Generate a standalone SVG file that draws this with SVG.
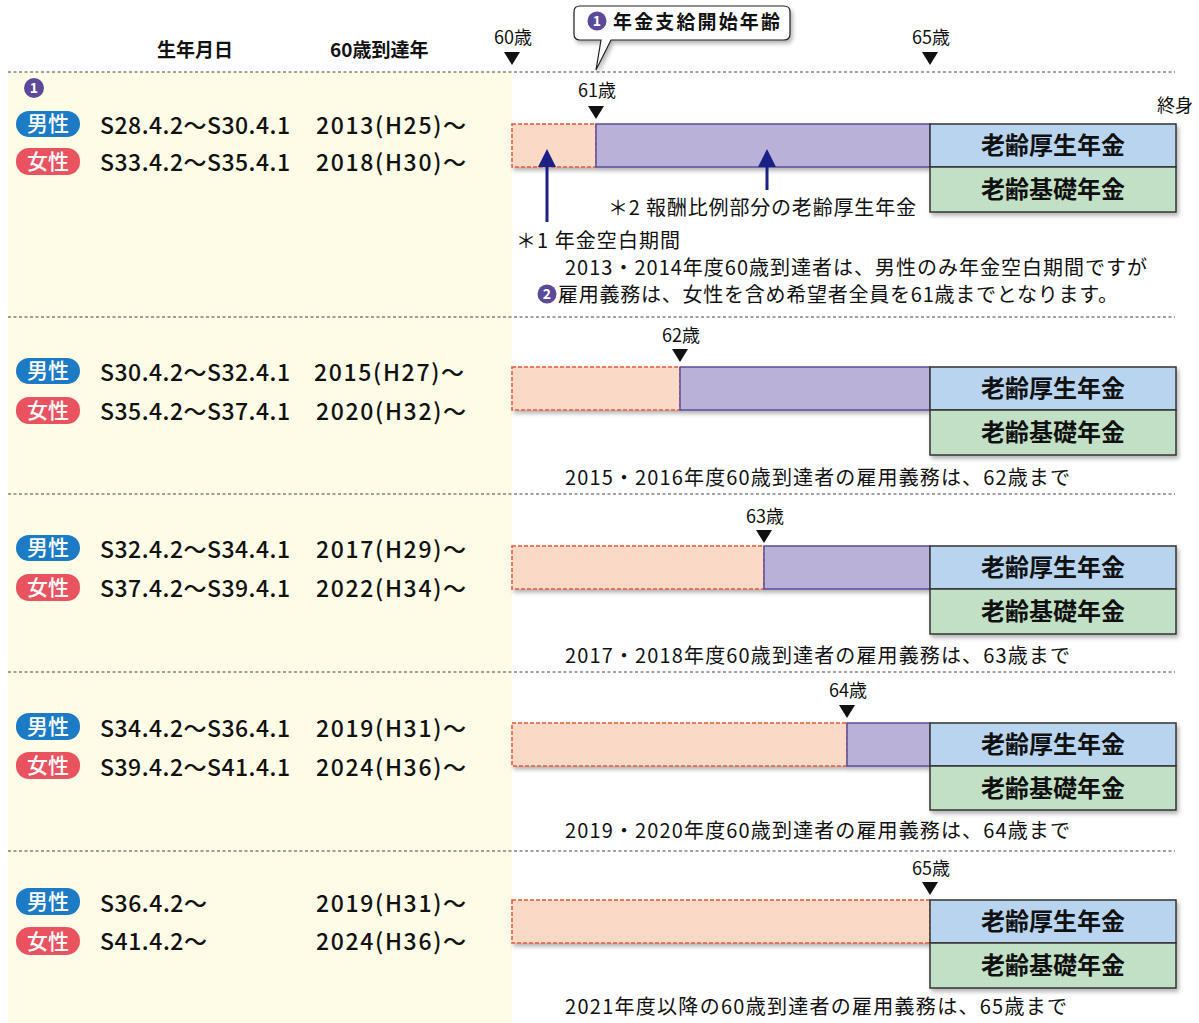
<svg xmlns="http://www.w3.org/2000/svg" width="1199" height="1023" viewBox="0 0 1199 1023">
<defs>
<filter id="sh" x="-5%" y="-10%" width="115%" height="130%"><feDropShadow dx="2" dy="3" stdDeviation="2" flood-color="#000" flood-opacity="0.3"/></filter>
<marker id="ah" viewBox="0 0 10 10" refX="5" refY="5" markerWidth="6" markerHeight="6" orient="auto-start-reverse"><path d="M0,0 L10,5 L0,10 Z" fill="#1b2087"/></marker>
</defs>
<style>
text{font-family:"Noto Sans CJK JP","Noto Sans",sans-serif;fill:#111}
.hd{font-size:19px;font-weight:bold}
.age{font-size:18px}
.row{font-size:23px;font-weight:500}
.cap{font-size:20px}
.lbl{font-size:24px;font-weight:bold;text-anchor:middle}
.bw{font-size:21px;font-weight:500;fill:#fff;text-anchor:middle}
.num{font-size:14px;fill:#fff;text-anchor:middle;font-weight:bold}
.sep{stroke:#444;stroke-width:1;stroke-dasharray:3 2.5}
.gap{fill:#fad9c6;stroke:#e8553a;stroke-width:1.5;stroke-dasharray:4 2}
.prop{fill:#b9b1d8;stroke:#5b4e99;stroke-width:1.5}
.kosei{fill:#b8d4ef;stroke:#333;stroke-width:1.5}
.kiso{fill:#c2e0c5;stroke:#333;stroke-width:1.5}
.male{fill:#1c7bc4}
.female{fill:#e8535f}
.pur{fill:#5c4a99}
.tri{fill:#111}
.arr{stroke:#1b2087;stroke-width:3;fill:none}
</style>
<rect x="0" y="0" width="1199" height="1023" fill="#fff"/>
<rect x="8" y="72" width="504" height="951" fill="#fefbe6"/>
<g id="separators">
<line class="sep" x1="8" y1="72" x2="1175" y2="72"/>
<line class="sep" x1="8" y1="317" x2="1175" y2="317"/>
<line class="sep" x1="8" y1="494" x2="1175" y2="494"/>
<line class="sep" x1="8" y1="672" x2="1175" y2="672"/>
<line class="sep" x1="8" y1="851" x2="1175" y2="851"/>
</g>
<g id="header">
<text class="hd" x="157" y="57">生年月日</text>
<text class="hd" x="330" y="57">60歳到達年</text>
<text class="age" x="513" y="44" text-anchor="middle">60歳</text>
<path class="tri" d="M504,52 H520 L512,65 Z"/>
<text class="age" x="931" y="44" text-anchor="middle">65歳</text>
<path class="tri" d="M922,52 H938 L930,65 Z"/>
</g>
<g id="callout">
<path d="M580,6 H784 Q790,6 790,12 V34 Q790,40 784,40 H611 L596,70 L601,40 H580 Q574,40 574,34 V12 Q574,6 580,6 Z" fill="#fff" stroke="#222" stroke-width="1.2" filter="url(#sh)"/>
<circle class="pur" cx="597" cy="21" r="9.5"/>
<text class="num" x="597" y="26">1</text>
<text class="hd" x="613" y="29" textLength="167" lengthAdjust="spacing">年金支給開始年齢</text>
</g>
<g id="row1">
<circle class="pur" cx="34" cy="88" r="10"/>
<text class="num" x="34" y="93">1</text>
<rect class="male" x="16" y="111" width="64" height="26" rx="13"/>
<text class="bw" x="48" y="131">男性</text>
<rect class="female" x="16" y="148" width="64" height="27" rx="13"/>
<text class="bw" x="48" y="169">女性</text>
<text class="row" x="100" y="134" textLength="190" lengthAdjust="spacing">S28.4.2～S30.4.1</text>
<text class="row" x="316" y="134" textLength="150" lengthAdjust="spacing">2013(H25)～</text>
<text class="row" x="100" y="171" textLength="190" lengthAdjust="spacing">S33.4.2～S35.4.1</text>
<text class="row" x="316" y="171" textLength="150" lengthAdjust="spacing">2018(H30)～</text>
<text class="age" x="597" y="97" text-anchor="middle">61歳</text>
<path class="tri" d="M588,106 H604 L596,119 Z"/>
<text class="age" x="1193" y="112" text-anchor="end">終身</text>
<g filter="url(#sh)">
<rect class="gap" x="512" y="124" width="84" height="43"/>
<rect class="prop" x="596" y="124" width="334" height="43"/>
<rect class="kosei" x="930" y="124" width="246" height="43"/>
<rect class="kiso" x="930" y="167" width="246" height="45"/>
</g>
<text class="lbl" x="1053" y="154">老齢厚生年金</text>
<text class="lbl" x="1053" y="198">老齢基礎年金</text>
<text class="cap" x="608" y="215" textLength="308" lengthAdjust="spacing">＊2 報酬比例部分の老齢厚生年金</text>
<text class="cap" x="516" y="248" textLength="164" lengthAdjust="spacing">＊1 年金空白期間</text>
<text class="cap" x="565" y="275" textLength="582" lengthAdjust="spacing">2013・2014年度60歳到達者は、男性のみ年金空白期間ですが</text>
<circle class="pur" cx="547" cy="294" r="9.5"/>
<text class="num" x="547" y="299">2</text>
<text class="cap" x="558" y="302" textLength="560" lengthAdjust="spacing">雇用義務は、女性を含め希望者全員を61歳までとなります。</text>
</g>
<g id="connectors">
<line class="arr" x1="547" y1="222" x2="547" y2="158" marker-end="url(#ah)"/>
<line class="arr" x1="767" y1="190" x2="767" y2="158" marker-end="url(#ah)"/>
</g>
<g id="row2">
<rect class="male" x="16" y="358" width="64" height="26" rx="13"/>
<text class="bw" x="48" y="378">男性</text>
<rect class="female" x="16" y="397" width="64" height="27" rx="13"/>
<text class="bw" x="48" y="418">女性</text>
<text class="row" x="100" y="381" textLength="190" lengthAdjust="spacing">S30.4.2～S32.4.1</text>
<text class="row" x="314" y="381" textLength="150" lengthAdjust="spacing">2015(H27)～</text>
<text class="row" x="100" y="420" textLength="190" lengthAdjust="spacing">S35.4.2～S37.4.1</text>
<text class="row" x="316" y="420" textLength="150" lengthAdjust="spacing">2020(H32)～</text>
<text class="age" x="681" y="342" text-anchor="middle">62歳</text>
<path class="tri" d="M672,349 H688 L680,362 Z"/>
<g filter="url(#sh)">
<rect class="gap" x="512" y="367" width="168" height="43"/>
<rect class="prop" x="680" y="367" width="250" height="43"/>
<rect class="kosei" x="930" y="367" width="246" height="43"/>
<rect class="kiso" x="930" y="410" width="246" height="45"/>
</g>
<text class="lbl" x="1053" y="397">老齢厚生年金</text>
<text class="lbl" x="1053" y="441">老齢基礎年金</text>
<text class="cap" x="565" y="485" textLength="505" lengthAdjust="spacing">2015・2016年度60歳到達者の雇用義務は、62歳まで</text>
</g>
<g id="row3">
<rect class="male" x="16" y="535" width="64" height="26" rx="13"/>
<text class="bw" x="48" y="555">男性</text>
<rect class="female" x="16" y="574" width="64" height="27" rx="13"/>
<text class="bw" x="48" y="595">女性</text>
<text class="row" x="100" y="558" textLength="190" lengthAdjust="spacing">S32.4.2～S34.4.1</text>
<text class="row" x="316" y="558" textLength="150" lengthAdjust="spacing">2017(H29)～</text>
<text class="row" x="100" y="597" textLength="190" lengthAdjust="spacing">S37.4.2～S39.4.1</text>
<text class="row" x="316" y="597" textLength="150" lengthAdjust="spacing">2022(H34)～</text>
<text class="age" x="765" y="523" text-anchor="middle">63歳</text>
<path class="tri" d="M756,530 H772 L764,543 Z"/>
<g filter="url(#sh)">
<rect class="gap" x="512" y="546" width="252" height="43"/>
<rect class="prop" x="764" y="546" width="166" height="43"/>
<rect class="kosei" x="930" y="546" width="246" height="43"/>
<rect class="kiso" x="930" y="589" width="246" height="45"/>
</g>
<text class="lbl" x="1053" y="576">老齢厚生年金</text>
<text class="lbl" x="1053" y="620">老齢基礎年金</text>
<text class="cap" x="565" y="663" textLength="505" lengthAdjust="spacing">2017・2018年度60歳到達者の雇用義務は、63歳まで</text>
</g>
<g id="row4">
<rect class="male" x="16" y="713" width="64" height="27" rx="13"/>
<text class="bw" x="48" y="734">男性</text>
<rect class="female" x="16" y="752" width="64" height="27" rx="13"/>
<text class="bw" x="48" y="773">女性</text>
<text class="row" x="100" y="737" textLength="190" lengthAdjust="spacing">S34.4.2～S36.4.1</text>
<text class="row" x="316" y="737" textLength="150" lengthAdjust="spacing">2019(H31)～</text>
<text class="row" x="100" y="776" textLength="190" lengthAdjust="spacing">S39.4.2～S41.4.1</text>
<text class="row" x="316" y="776" textLength="150" lengthAdjust="spacing">2024(H36)～</text>
<text class="age" x="848" y="697" text-anchor="middle">64歳</text>
<path class="tri" d="M839,705 H855 L847,718 Z"/>
<g filter="url(#sh)">
<rect class="gap" x="512" y="723" width="335" height="43"/>
<rect class="prop" x="847" y="723" width="83" height="43"/>
<rect class="kosei" x="930" y="723" width="246" height="43"/>
<rect class="kiso" x="930" y="766" width="246" height="44"/>
</g>
<text class="lbl" x="1053" y="753">老齢厚生年金</text>
<text class="lbl" x="1053" y="797">老齢基礎年金</text>
<text class="cap" x="565" y="838" textLength="505" lengthAdjust="spacing">2019・2020年度60歳到達者の雇用義務は、64歳まで</text>
</g>
<g id="row5">
<rect class="male" x="16" y="888" width="64" height="27" rx="13"/>
<text class="bw" x="48" y="909">男性</text>
<rect class="female" x="16" y="927" width="64" height="28" rx="14"/>
<text class="bw" x="48" y="949">女性</text>
<text class="row" x="100" y="912" textLength="107" lengthAdjust="spacing">S36.4.2～</text>
<text class="row" x="316" y="912" textLength="150" lengthAdjust="spacing">2019(H31)～</text>
<text class="row" x="100" y="950" textLength="107" lengthAdjust="spacing">S41.4.2～</text>
<text class="row" x="316" y="950" textLength="150" lengthAdjust="spacing">2024(H36)～</text>
<text class="age" x="931" y="875" text-anchor="middle">65歳</text>
<path class="tri" d="M922,882 H938 L930,895 Z"/>
<g filter="url(#sh)">
<rect class="gap" x="512" y="900" width="418" height="43"/>
<rect class="kosei" x="930" y="900" width="246" height="43"/>
<rect class="kiso" x="930" y="943" width="246" height="45"/>
</g>
<text class="lbl" x="1053" y="930">老齢厚生年金</text>
<text class="lbl" x="1053" y="974">老齢基礎年金</text>
<text class="cap" x="565" y="1014" textLength="502" lengthAdjust="spacing">2021年度以降の60歳到達者の雇用義務は、65歳まで</text>
</g>
</svg>
